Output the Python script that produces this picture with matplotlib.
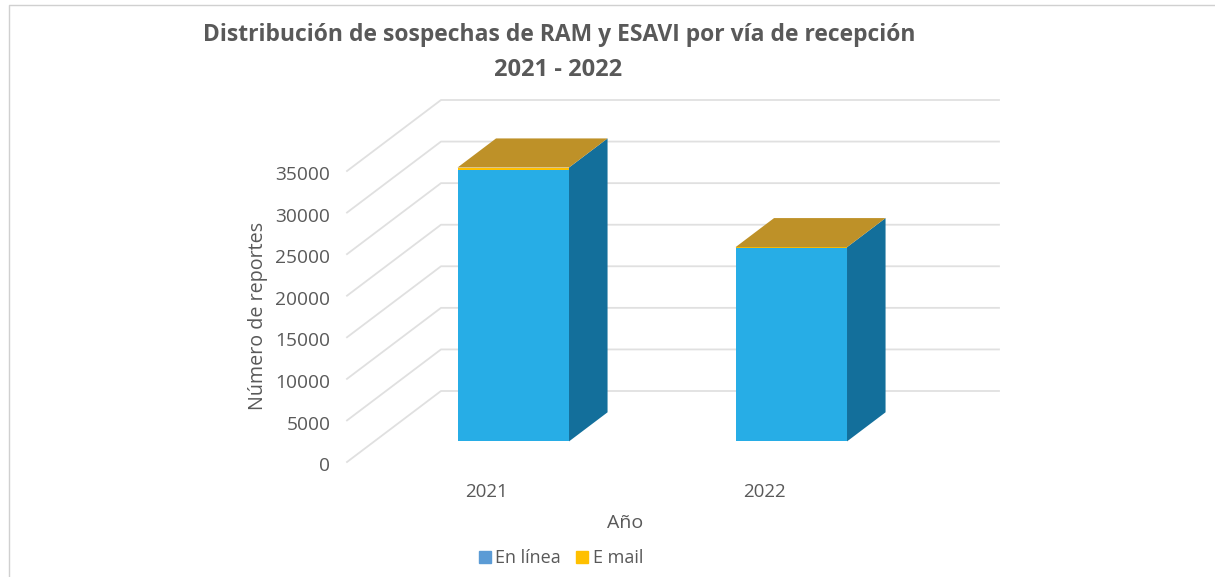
import matplotlib
matplotlib.use('Agg')
import matplotlib.pyplot as plt
from matplotlib.patches import Patch
from matplotlib.transforms import ScaledTranslation
import numpy as np

years = ['2021', '2022']
en_linea = [32600, 23300]
e_mail = [340, 60]
yticks = [0, 5000, 10000, 15000, 20000, 25000, 30000, 35000]

W, H = 1215, 577
plt.rcParams['font.family'] = 'Open Sans'

# fake 3d: depth runs from 0 (front of floor) to 1 (back wall)
cat_px = 278.
depth_dx = 94 / cat_px
depth_dy = 71 / (291 / 35000.)
bar_w = 111.5 / cat_px
d0, d1 = 0.29, 0.70

c_front = '#27ade6'
c_side = '#136f9b'
c_top = '#be9128'
c_mail = '#ffc000'
c_grid = '#e0e0e0'
c_text = '#595959'

fig = plt.figure(figsize=(W / 100., H / 100.), dpi=100)
ax = fig.add_axes([347. / W, 1 - 462. / H, 558. / W, 291. / H])
xmin, xmax = -0.5, -0.5 + 558 / cat_px
ax.set_xlim(xmin, xmax)
ax.set_ylim(0, 35000)
ax.patch.set_visible(False)
for s in ax.spines.values():
    s.set_visible(False)

def pr(x, y, d):
    return x + d * depth_dx, y + d * depth_dy

# gridlines: diagonal on the side wall, flat on the back wall
for v in yticks:
    a = pr(xmin, v, 0)
    b = pr(xmin, v, 1)
    c = pr(xmax, v, 1)
    ax.plot([a[0], b[0], c[0]], [a[1], b[1], c[1]], color=c_grid, lw=1.3,
            clip_on=False, zorder=1)

x = np.arange(len(years))
for i in x:
    h1 = en_linea[i]
    h2 = h1 + e_mail[i]
    l = i + d0 * depth_dx - bar_w / 2
    r = l + bar_w
    base = d0 * depth_dy
    dd = (d1 - d0)
    ax.bar(l + bar_w / 2, h1, bar_w, bottom=base, color=c_front, clip_on=False, zorder=3)
    ax.bar(l + bar_w / 2, e_mail[i], bar_w, bottom=base + h1, color=c_mail, clip_on=False, zorder=3)
    # side face
    ax.fill([r, r + dd * depth_dx, r + dd * depth_dx, r],
            [base, base + dd * depth_dy, base + h2 + dd * depth_dy, base + h2],
            color=c_side, lw=0, clip_on=False, zorder=3)
    # top face
    ax.fill([l, r, r + dd * depth_dx, l + dd * depth_dx],
            [base + h2, base + h2, base + h2 + dd * depth_dy, base + h2 + dd * depth_dy],
            color=c_top, lw=0, clip_on=False, zorder=4)

ax.set_xticks(x)
ax.set_xticklabels(years, fontsize=13.5, color=c_text)
ax.set_yticks(yticks)
ax.set_yticklabels([str(v) for v in yticks], fontsize=13.8, color=c_text)
ax.tick_params(axis='y', length=0, pad=12)
ax.tick_params(axis='x', length=0, pad=15)
# labels sit a little lower than the gridline ends
shift = ScaledTranslation(0, -1.5 / 72., fig.dpi_scale_trans)
for t in ax.get_yticklabels():
    t.set_transform(t.get_transform() + shift)

fig.text(559. / W, 1 - 35. / H, 'Distribución de sospechas de RAM y ESAVI por vía de recepción',
         fontsize=16.5, fontweight='bold', color=c_text, ha='center', va='center')
fig.text(558. / W, 1 - 70. / H, '2021 - 2022',
         fontsize=17, fontweight='bold', color=c_text, ha='center', va='center')
fig.text(258. / W, 1 - 316. / H, 'Número de reportes', fontsize=14.2, color=c_text,
         rotation=90, ha='center', va='center')
fig.text(625. / W, 1 - 523. / H, 'Año', fontsize=14, color=c_text, ha='center', va='center')

handles = [Patch(color='#5b9bd5', label='En línea'), Patch(color=c_mail, label='E mail')]
fig.legend(handles=handles, loc='center', bbox_to_anchor=(561. / W, 1 - 558. / H), ncol=2,
           frameon=False, fontsize=13, labelcolor=c_text, handlelength=0.65, handleheight=0.65,
           handletextpad=0.25, columnspacing=0.85)

# chart frame
fig.add_artist(plt.Line2D([9. / W, 9. / W, 1], [0, 1 - 5. / H, 1 - 5. / H],
                          color='#d0d0d0', lw=1))

fig.savefig('out.png', dpi=100)
